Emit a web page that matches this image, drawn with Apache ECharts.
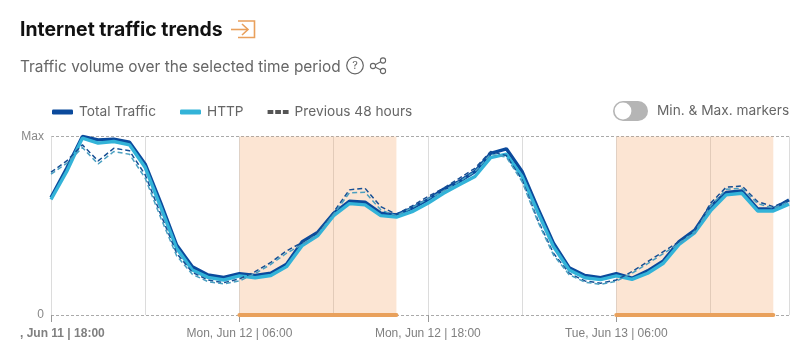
<!DOCTYPE html>
<html>
<head>
<meta charset="utf-8">
<style>
  html, body { margin: 0; padding: 0; background: #fff; }
  #chart { width: 808px; height: 362px; }
</style>
<script src="https://cdn.jsdelivr.net/npm/echarts@6/dist/echarts.min.js"></script>
</head>
<body>
<div id="chart"></div>
<script>
// hourly values, 0..100 of the "Max" scale
var totalTraffic = [65.8, 82.2, 100, 98.1, 98.5, 96.8, 84.5, 62.6, 39.2, 27.1, 22.4, 21.1, 23.2, 22.1, 23.4, 28.4, 41.1, 46.4, 57.0, 63.7, 63.2, 57.0, 56.1, 59.8, 64.5, 70.5, 74.8, 80.4, 90.6, 93.1, 80.4, 59.8, 40.2, 26.5, 22.1, 20.9, 23.2, 20.6, 24.7, 30.3, 41.1, 47.5, 60.7, 68.6, 69.5, 59.4, 59.4, 64.5];
var http = [64.7, 80.4, 99.1, 96.3, 97.2, 95.3, 82.6, 60.2, 37.4, 25.2, 21.1, 19.6, 21.9, 20.9, 22.1, 27.1, 38.9, 44.5, 55.7, 62.4, 61.7, 55.7, 54.8, 57.9, 62.6, 68.2, 72.9, 77.6, 88.2, 90.1, 77.6, 57.6, 38.3, 25.2, 20.9, 19.8, 21.9, 20.0, 23.4, 29.0, 39.6, 46.2, 58.3, 67.3, 68.2, 58.3, 58.3, 62.1];
var prevTotal = [80.0, 86.3, 95.3, 86.3, 93.4, 92.0, 78.5, 56.1, 34.6, 23.9, 19.6, 18.1, 20.2, 24.3, 29.5, 35.9, 40.7, 46.4, 57.6, 70.1, 71.0, 60.7, 56.4, 61.1, 66.3, 71.0, 76.6, 82.2, 91.6, 89.3, 75.7, 53.3, 34.6, 23.4, 19.1, 17.8, 19.6, 24.3, 29.9, 35.5, 41.1, 47.1, 62.6, 71.6, 72.3, 63.5, 60.7, 64.5];
var prevHttp = [78.9, 85.0, 93.8, 84.6, 91.6, 90.0, 76.6, 54.2, 33.2, 22.8, 18.7, 17.4, 19.1, 23.2, 28.4, 34.6, 39.6, 45.3, 56.5, 68.4, 68.8, 58.9, 55.6, 60.2, 65.0, 69.5, 74.8, 80.4, 90.1, 88.4, 74.8, 52.4, 33.6, 22.6, 18.4, 17.2, 18.9, 23.4, 28.8, 34.4, 40.0, 46.0, 61.0, 70.4, 71.0, 62.4, 59.8, 63.5];

var hours = [];
var tickLabels = { 12: 'Mon, Jun 12 | 06:00', 24: 'Mon, Jun 12 | 18:00', 36: 'Tue, Jun 13 | 06:00' };
var firstLabel = ', Jun 11 | 18:00';
for (var h = 0; h < totalTraffic.length; h++) hours.push(String(h));

var bands = [[12, 22], [36, 46]];
var dark = '#0b4a9c', light = '#33b3d8';
var axisFont = '"Liberation Sans"';

var chart = echarts.init(document.getElementById('chart'));

function dashed(name, data, color) {
  return {
    name: name, type: 'line', data: data, symbol: 'none', silent: true,
    lineStyle: { color: color, width: 1.5, type: [5, 3] }, z: 6
  };
}

chart.setOption({
  animation: false,
  textStyle: { fontFamily: 'Inter' },
  title: [
    { text: 'Internet traffic trends', left: 20, top: 21, padding: 0,
      textStyle: { fontFamily: 'Inter', fontSize: 19.4, fontWeight: 700, color: '#111' } },
    { text: 'Traffic volume over the selected time period', left: 20, top: 60, padding: 0,
      textStyle: { fontFamily: 'Inter', fontSize: 15.4, fontWeight: 400, color: '#666' } }
  ],
  legend: {
    left: 52, top: 105, padding: 0, itemWidth: 21, itemHeight: 5, itemGap: 24,
    selectedMode: false,
    textStyle: { fontSize: 13.7, color: '#666', padding: [0, 0, 0, 1] },
    data: [
      { name: 'Total Traffic', icon: 'roundRect', itemStyle: { color: dark } },
      { name: 'HTTP', icon: 'roundRect', itemStyle: { color: light } },
      { name: 'Previous 48 hours', icon: 'path://M0 0H6V4H0ZM8 0H14V4H8ZM16 0H22V4H16Z', itemStyle: { color: '#555' } }
    ]
  },
  grid: { left: 51, right: 19, top: 136.5, bottom: 47 },
  xAxis: {
    type: 'category', boundaryGap: false, data: hours,
    axisLine: { show: false },
    axisTick: { length: 7, lineStyle: { color: '#999' },
      interval: function (i) { return i % 12 === 0 && i < 48; } },
    axisLabel: {
      color: '#808080', fontFamily: axisFont, fontSize: 12, margin: 13, hideOverlap: false,
      interval: function (i) { return !!tickLabels[i]; },
      formatter: function (v) { return tickLabels[v] || ''; }
    },
    splitLine: { show: true, lineStyle: { color: '#dcdcdc', width: 1 },
      interval: function (i) { return i % 6 === 0 || i === 47; } }
  },
  yAxis: {
    type: 'value', min: 0, max: 100, interval: 100,
    axisLine: { show: false }, axisTick: { show: false },
    axisLabel: { color: '#888', fontFamily: axisFont, fontSize: 12, margin: 7,
      formatter: function (v) { return v === 100 ? 'Max' : '0'; } },
    splitLine: { lineStyle: { color: '#aaa', type: [3, 2], width: 1 } }
  },
  series: [
    {
      name: 'Total Traffic', type: 'line', data: totalTraffic, symbol: 'none', clip: false,
      lineStyle: { color: dark, width: 3.4 }, itemStyle: { color: dark }, z: 4,
      markArea: {
        silent: true,
        itemStyle: { color: 'rgba(245,162,98,0.28)' },
        data: bands.map(function (b) { return [{ xAxis: String(b[0]) }, { xAxis: String(b[1]) }]; })
      },
      markLine: {
        silent: true, symbol: 'none', label: { show: false },
        lineStyle: { color: '#e9a15c', width: 4, type: 'solid', cap: 'round' },
        data: bands.map(function (b) { return [{ xAxis: String(b[0]), yAxis: 0 }, { xAxis: String(b[1]), yAxis: 0 }]; })
      }
    },
    {
      name: 'HTTP', type: 'line', data: http, symbol: 'none', clip: false,
      lineStyle: { color: light, width: 3.4 }, itemStyle: { color: light }, z: 5
    },
    dashed('Previous 48 hours', prevTotal, '#174f94'),
    dashed('Previous HTTP', prevHttp, '#4a9fc0')
  ],
  graphic: [
    // exit icon by the title
    { type: 'polyline', shape: { points: [[238, 21], [254.5, 21], [254.5, 37.5], [238, 37.5]] },
      style: { fill: null, stroke: '#e9a05c', lineWidth: 1.6 } },
    { type: 'polyline', shape: { points: [[231, 29.5], [248, 29.5]] },
      style: { fill: null, stroke: '#e9a05c', lineWidth: 1.6 } },
    { type: 'polyline', shape: { points: [[242, 24], [248, 29.5], [242, 35]] },
      style: { fill: null, stroke: '#e9a05c', lineWidth: 1.6 } },
    // help icon
    { type: 'circle', shape: { cx: 355, cy: 65.5, r: 8.3 },
      style: { fill: null, stroke: '#666', lineWidth: 1.2 } },
    { type: 'text', style: { text: '?', x: 355, y: 65.5, align: 'center', verticalAlign: 'middle',
      font: '11px Inter', fill: '#666' } },
    // share icon
    { type: 'polyline', shape: { points: [[383, 60.5], [373, 66], [383, 71]] },
      style: { fill: null, stroke: '#666', lineWidth: 1.1 } },
    { type: 'circle', shape: { cx: 383, cy: 60.5, r: 2.6 }, style: { fill: '#fff', stroke: '#666', lineWidth: 1.1 } },
    { type: 'circle', shape: { cx: 373, cy: 66, r: 2.6 }, style: { fill: '#fff', stroke: '#666', lineWidth: 1.1 } },
    { type: 'circle', shape: { cx: 383, cy: 71, r: 2.6 }, style: { fill: '#fff', stroke: '#666', lineWidth: 1.1 } },
    // toggle
    { type: 'rect', shape: { x: 613, y: 101, width: 35, height: 20, r: 10 }, style: { fill: '#b5b5b5' } },
    { type: 'circle', shape: { cx: 623, cy: 111, r: 8.4 }, style: { fill: '#fff' } },
    { type: 'text', style: { text: 'Min. & Max. markers', x: 657, y: 111, verticalAlign: 'middle',
      font: '13.7px Inter', fill: '#666' } },
    // first tick label is cut off by the card edge
    { type: 'text', style: { text: firstLabel, x: 20, y: 333.5, verticalAlign: 'middle',
      font: 'bold 12px "Liberation Sans"', fill: '#808080' } }
  ]
});
</script>
</body>
</html>
